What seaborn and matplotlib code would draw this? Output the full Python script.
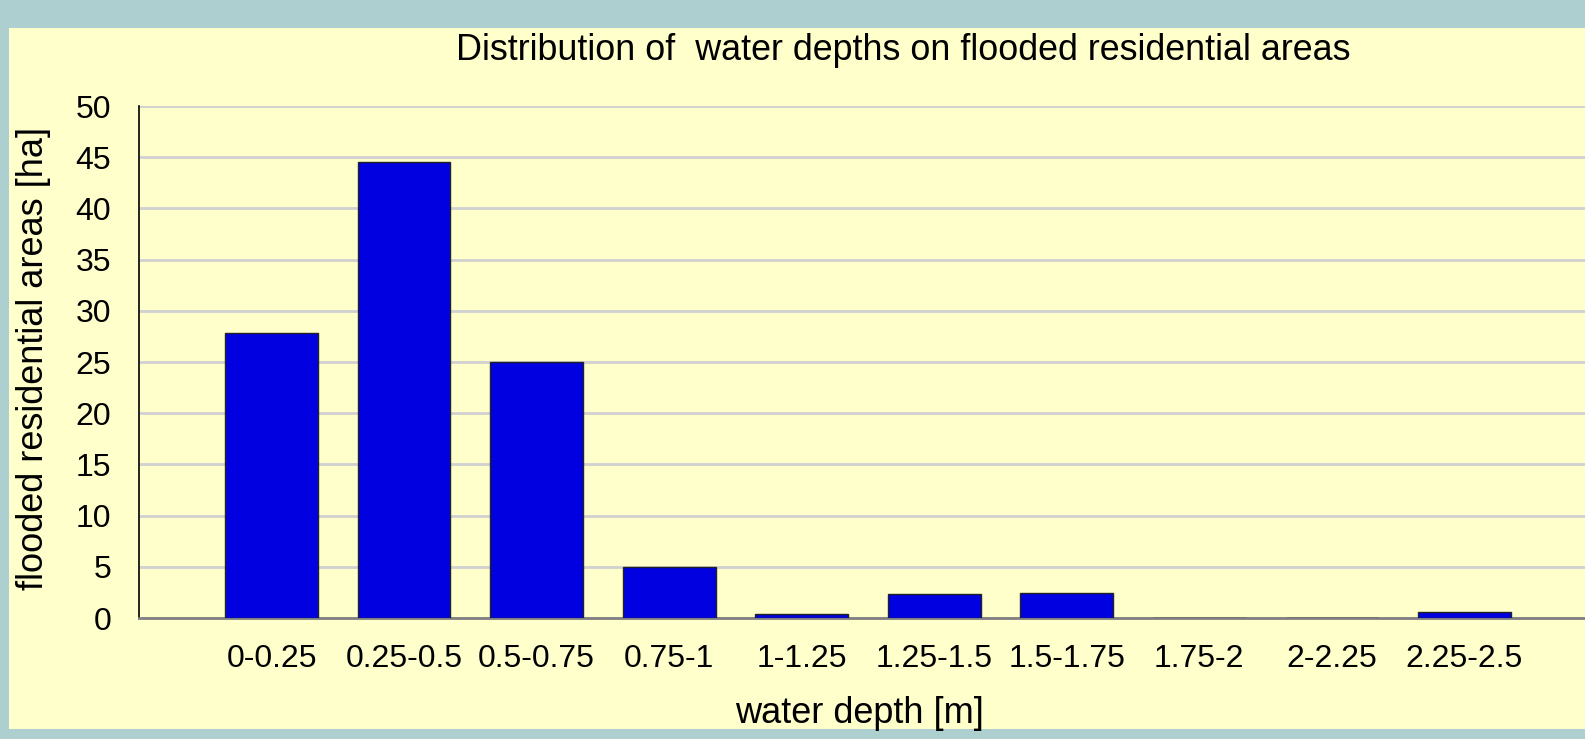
import matplotlib
matplotlib.use("Agg")
import matplotlib.pyplot as plt
import pandas as pd
import seaborn as sns
from matplotlib.patches import Rectangle

depth_classes = ["0-0.25", "0.25-0.5", "0.5-0.75", "0.75-1", "1-1.25",
                 "1.25-1.5", "1.5-1.75", "1.75-2", "2-2.25", "2.25-2.5"]
flooded_ha = [27.8, 44.5, 25.0, 5.0, 0.4, 2.3, 2.4, 0.0, 0.0, 0.6]
y_ticks = [0, 5, 10, 15, 20, 25, 30, 35, 40, 45, 50]

BORDER = "#AECFCF"
PANEL = "#FFFFCC"
BAR = "#0000E0"

sns.set_style("white")
plt.rcParams["font.family"] = ["Liberation Sans", "DejaVu Sans"]
plt.rcParams["text.color"] = "black"
plt.rcParams["axes.labelcolor"] = "black"
plt.rcParams["xtick.color"] = "black"
plt.rcParams["ytick.color"] = "black"

df = pd.DataFrame({"depth": depth_classes, "area": flooded_ha})

fig = plt.figure(figsize=(15.85, 7.39), dpi=100, facecolor=BORDER)
# yellow chart area inside the teal frame, kept behind the axes
fig.patches.append(Rectangle((9 / 1585, 10 / 739), 1 - 9 / 1585, 1 - 38 / 739,
                             transform=fig.transFigure, facecolor=PANEL,
                             edgecolor="none", zorder=-5))

ax = fig.add_axes([139 / 1585, 121 / 739, 1458 / 1585, 512 / 739])
ax.set_facecolor(PANEL)

sns.barplot(data=df, x="depth", y="area", color=BAR, width=0.7,
            edgecolor="#222222", linewidth=1, saturation=1, ax=ax, zorder=3)

ax.set_xlim(-1, 10)
ax.set_ylim(0, 50)
ax.set_yticks(y_ticks)
ax.yaxis.grid(True, color="#D0D0D0", linewidth=2, zorder=0)
ax.set_axisbelow(True)

for side in ["top", "right"]:
    ax.spines[side].set_visible(False)
ax.spines["left"].set_color("black")
ax.spines["left"].set_linewidth(1.2)
ax.spines["bottom"].set_color("#808080")
ax.spines["bottom"].set_linewidth(2)

ax.tick_params(axis="y", length=8, width=2, color="#808080", direction="out",
               labelsize=23, labelcolor="black", pad=12)
ax.tick_params(axis="x", length=0, labelsize=23, labelcolor="black", pad=19)

ax.set_xlabel("water depth [m]", fontsize=26)
ax.xaxis.set_label_coords(0.494, -0.186)
ax.xaxis.label.set_va("center")
ax.set_ylabel("flooded residential areas [ha]", fontsize=26)
ax.yaxis.set_label_coords(-0.0727, 0.506)
ax.yaxis.label.set_va("center")

fig.text(903 / 1585, 1 - 50.6 / 739,
         "Distribution of  water depths on flooded residential areas",
         ha="center", va="center", fontsize=25.8)

fig.savefig("out.png", dpi=100, facecolor=BORDER)
plt.close(fig)
